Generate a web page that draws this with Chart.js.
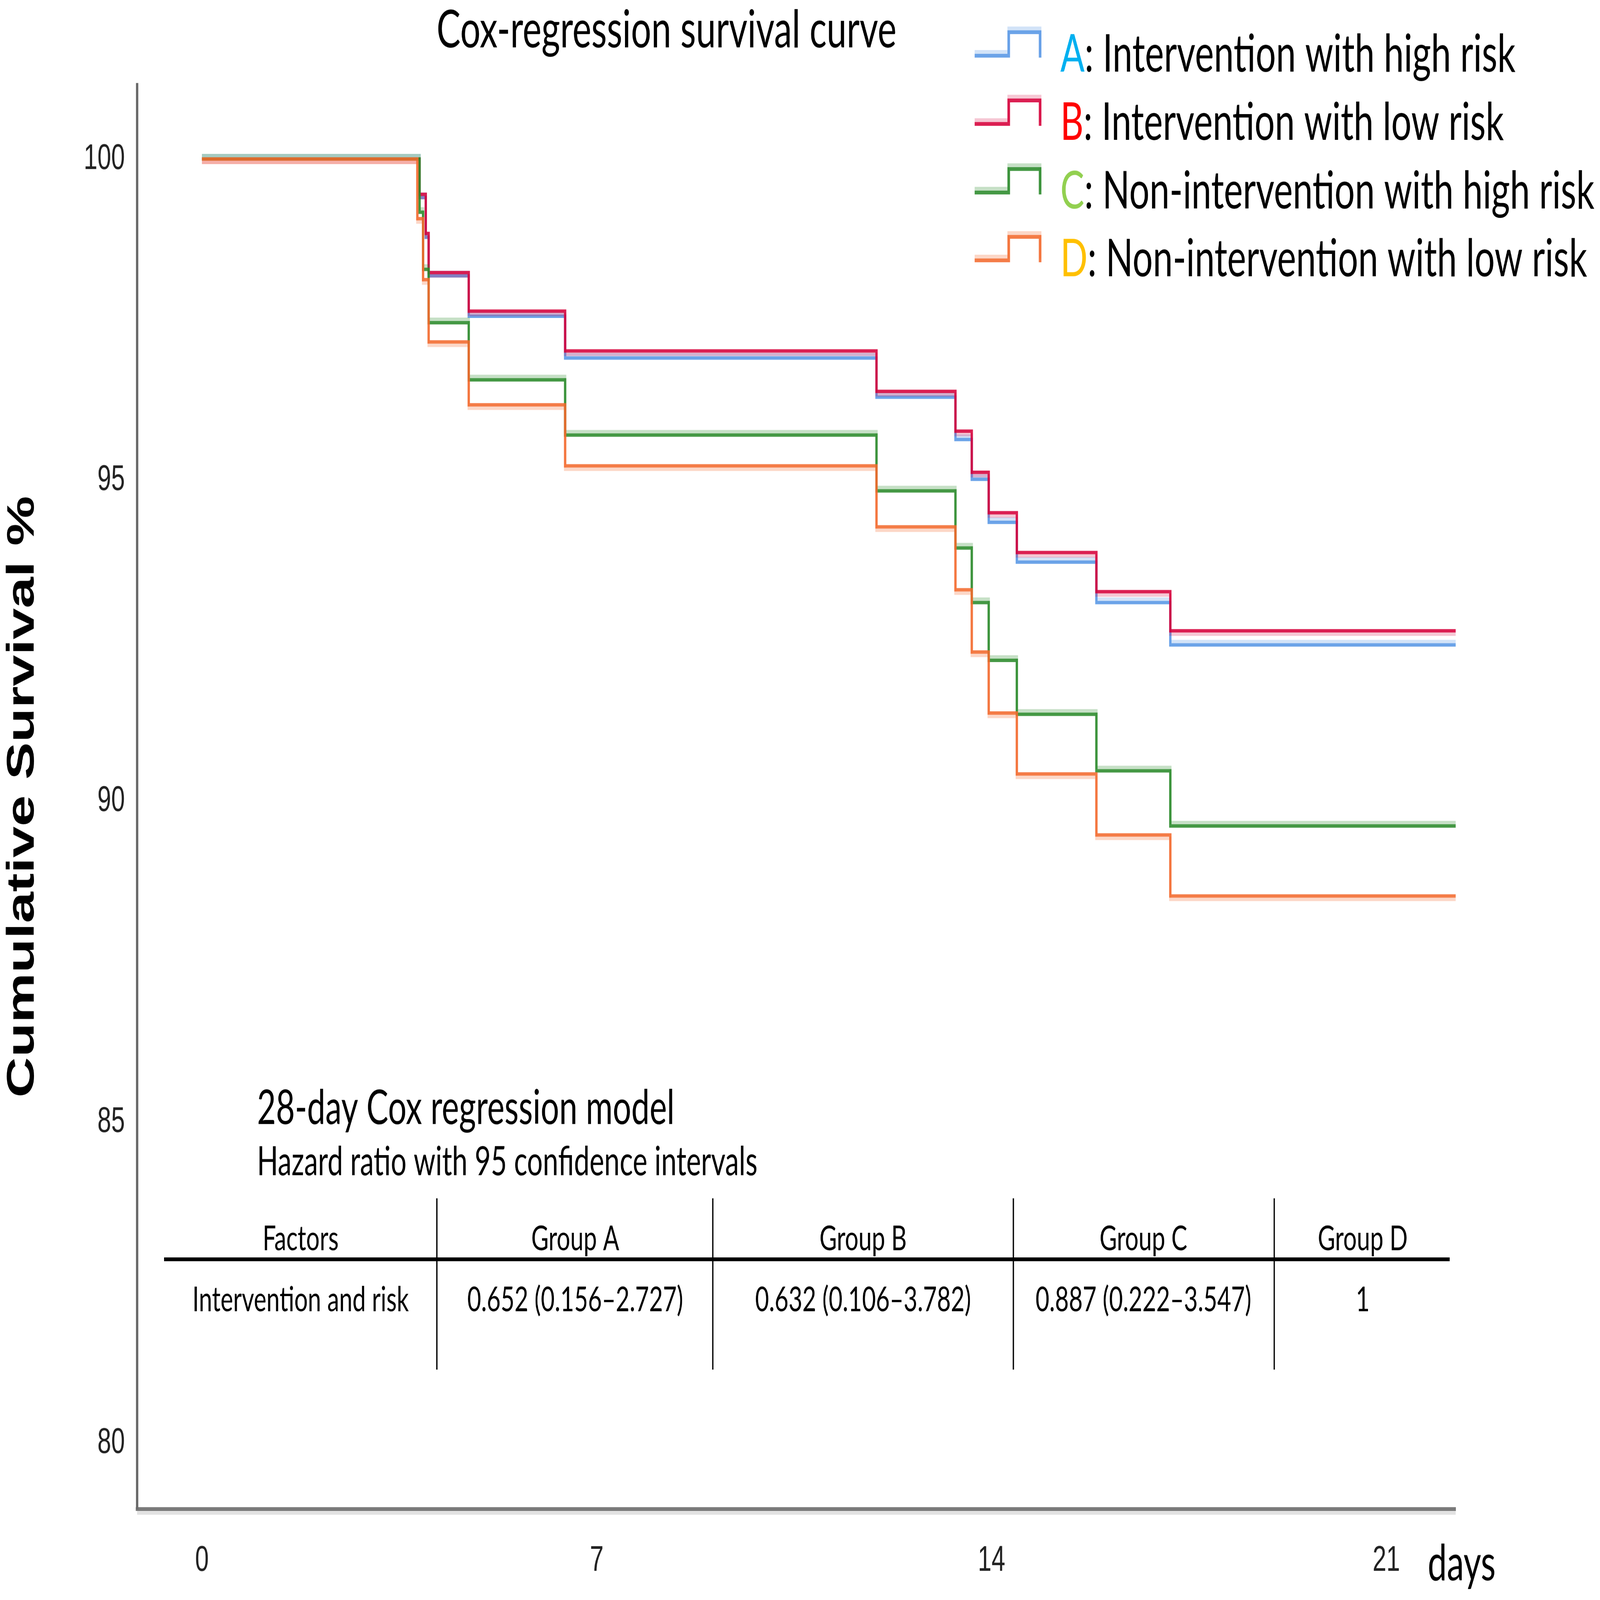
<!DOCTYPE html>
<html>
<head>
<meta charset="utf-8">
<title>Cox-regression survival curve</title>
<script src="https://cdn.jsdelivr.net/npm/chart.js@4.4.0/dist/chart.umd.min.js"></script>
<style>
  html, body { margin: 0; padding: 0; background: #ffffff; overflow: hidden; }
  canvas { display: block; }
</style>
</head>
<body>
<!-- drawn at the reference size, stretched by css to whatever the window is -->
<canvas id="survivalChart" width="6164" height="4222" style="width:100vw;height:100vh"></canvas>
<script>
// step times (days) and survival % after each step, one pair of arrays per group
const daysA = [0, 3.86, 3.97, 4.02, 4.73, 6.44, 11.96, 13.36, 13.65, 13.95, 14.45, 15.86, 17.17, 22.24];
const survA = [100, 99.40, 98.78, 98.18, 97.55, 96.90, 96.29, 95.63, 95.01, 94.34, 93.72, 93.09, 92.43, 92.43];

const daysB = [0, 3.86, 3.97, 4.02, 4.73, 6.44, 11.96, 13.36, 13.65, 13.95, 14.45, 15.86, 17.17, 22.24];
const survB = [100, 99.45, 98.84, 98.23, 97.63, 97.01, 96.38, 95.76, 95.12, 94.49, 93.87, 93.26, 92.65, 92.65];

const daysC = [0, 3.86, 3.92, 4.02, 4.73, 6.44, 11.96, 13.36, 13.65, 13.95, 14.45, 15.86, 17.17, 22.24];
const survC = [100, 99.17, 98.28, 97.45, 96.56, 95.70, 94.83, 93.94, 93.09, 92.19, 91.35, 90.47, 89.61, 89.61];

const daysD = [0, 3.82, 3.92, 4.02, 4.73, 6.44, 11.96, 13.36, 13.65, 13.95, 14.45, 15.86, 17.17, 22.24];
const survD = [100, 99.07, 98.12, 97.15, 96.17, 95.22, 94.27, 93.29, 92.32, 91.37, 90.42, 89.47, 88.52, 88.52];

const groupLetters = ['A', 'B', 'C', 'D'];
const groupLabels = [
  ': Intervention with high risk',
  ': Intervention with low risk',
  ': Non-intervention with high risk',
  ': Non-intervention with low risk'
];

const xTickValues = [0, 7, 14, 21];
const yTickValues = [80, 85, 90, 95, 100];

const tableHeader = ['Factors', 'Group A', 'Group B', 'Group C', 'Group D'];
const tableRow = ['Intervention and risk', '0.652 (0.156\u20132.727)', '0.632 (0.106\u20133.782)', '0.887 (0.222\u20133.547)', '1'];

// styles
const lineColors = ['rgba(94,155,230,0.92)', 'rgba(214,0,58,0.88)', 'rgba(42,138,42,0.88)', 'rgba(242,106,46,0.88)'];
const shadowColors = ['rgba(94,155,230,0.3)', 'rgba(214,0,58,0.25)', 'rgba(42,138,42,0.3)', 'rgba(242,106,46,0.3)'];
const shadowOffsets = [-9, 9, -9, 9];
const letterColors = ['#00B0F0', '#FF0000', '#92D050', '#FFC000'];
const textFont = 'Lato, "Open Sans", sans-serif';
const tickFont = '"Liberation Sans", Arial, sans-serif';

const toPoints = (days, surv) => days.map((d, i) => ({ x: d, y: surv[i] }));
const seriesData = [toPoints(daysA, survA), toPoints(daysB, survB), toPoints(daysC, survC), toPoints(daysD, survD)];

// soft second band that SPSS draws along each curve
const lineShadow = {
  id: 'lineShadow',
  beforeDatasetDraw(chart, args) {
    const ctx = chart.ctx;
    ctx.save();
    ctx.shadowColor = shadowColors[args.index];
    ctx.shadowOffsetX = 0;
    ctx.shadowOffsetY = shadowOffsets[args.index];
    ctx.shadowBlur = 0;
  },
  afterDatasetDraw(chart) {
    chart.ctx.restore();
  }
};

// title, legend, "days" label and hazard ratio table
const decorations = {
  id: 'decorations',
  afterDraw(chart) {
    const ctx = chart.ctx;
    const area = chart.chartArea;
    ctx.save();

    // light band under the x axis line
    ctx.strokeStyle = '#e2e2e2';
    ctx.lineWidth = 10;
    ctx.beginPath();
    ctx.moveTo(area.left, area.bottom + 10);
    ctx.lineTo(area.right, area.bottom + 10);
    ctx.stroke();

    ctx.textBaseline = 'alphabetic';
    ctx.fillStyle = '#000';

    ctx.font = '138px ' + textFont;
    ctx.textAlign = 'center';
    ctx.fillText('Cox-regression survival curve', 2568, 125);

    // legend
    const rowBase = [189, 369, 550, 729];
    ctx.textAlign = 'left';
    for (let i = 0; i < 4; i++) {
      const b = rowBase[i];
      ctx.save();
      ctx.strokeStyle = lineColors[i];
      ctx.lineWidth = 10;
      ctx.shadowColor = shadowColors[i];
      ctx.shadowOffsetY = -10;
      ctx.beginPath();
      ctx.moveTo(3755, b - 42);
      ctx.lineTo(3886, b - 42);
      ctx.lineTo(3886, b - 104);
      ctx.lineTo(4007, b - 104);
      ctx.lineTo(4007, b - 37);
      ctx.stroke();
      ctx.restore();

      ctx.font = '138px ' + textFont;
      ctx.fillStyle = letterColors[i];
      ctx.fillText(groupLetters[i], 4085, b);
      const w = ctx.measureText(groupLetters[i]).width;
      ctx.fillStyle = '#000';
      ctx.fillText(groupLabels[i], 4085 + w, b);
    }

    ctx.font = '132px ' + textFont;
    ctx.fillText('days', 5500, 4170);

    // table
    ctx.font = '126px ' + textFont;
    ctx.fillText('28-day Cox regression model', 990, 2966);
    ctx.font = '107px ' + textFont;
    ctx.fillText('Hazard ratio with 95 confidence intervals', 990, 3101);

    const colCenters = [1158, 2216, 3325, 4405, 5250];
    ctx.font = '92px ' + textFont;
    ctx.textAlign = 'center';
    tableHeader.forEach((t, i) => ctx.fillText(t, colCenters[i], 3299));
    tableRow.forEach((t, i) => ctx.fillText(t, colCenters[i], 3460));

    ctx.strokeStyle = '#000';
    ctx.lineWidth = 10;
    ctx.beginPath();
    ctx.moveTo(632, 3323);
    ctx.lineTo(5585, 3323);
    ctx.stroke();
    ctx.lineWidth = 5;
    [1683, 2746, 3904, 4909].forEach(x => {
      ctx.beginPath();
      ctx.moveTo(x, 3162);
      ctx.lineTo(x, 3614);
      ctx.stroke();
    });
    ctx.restore();
  }
};

const ctx = document.getElementById('survivalChart').getContext('2d');
new Chart(ctx, {
  type: 'line',
  data: {
    datasets: seriesData.map((pts, i) => ({
      label: groupLetters[i] + groupLabels[i],
      data: pts,
      borderColor: lineColors[i],
      borderWidth: 9,
      stepped: 'before',
      pointRadius: 0,
      fill: false,
      tension: 0,
      order: 3 - i // D on top, as in the original
    }))
  },
  options: {
    responsive: false,
    animation: false,
    devicePixelRatio: 1,
    layout: { padding: { left: 0, top: 223, right: 556, bottom: 0 } },
    plugins: {
      legend: { display: false },
      title: { display: false },
      tooltip: { enabled: false }
    },
    scales: {
      x: {
        type: 'linear',
        min: -1.15,
        max: 22.23,
        afterFit: (scale) => { scale.height = 240; },
        afterBuildTicks: (scale) => { scale.ticks = xTickValues.map(v => ({ value: v })); },
        grid: { display: false, drawTicks: false },
        border: { display: true, color: '#7a7a7a', width: 10 },
        ticks: {
          padding: 80,
          color: '#222',
          font: { family: tickFont, size: 95 },
          maxRotation: 0
        }
      },
      y: {
        type: 'linear',
        min: 78.97,
        max: 101.16,
        afterFit: (scale) => { scale.width = 528; },
        afterBuildTicks: (scale) => { scale.ticks = yTickValues.map(v => ({ value: v })); },
        grid: { display: false, drawTicks: false },
        border: { display: true, color: '#6a6a6a', width: 9 },
        ticks: {
          padding: 47,
          color: '#222',
          font: { family: tickFont, size: 95 }
        },
        title: {
          display: true,
          text: 'Cumulative Survival %',
          color: '#000',
          padding: { top: 0, bottom: 0 },
          font: { family: tickFont, size: 148, weight: 'bold' }
        }
      }
    }
  },
  plugins: [lineShadow, decorations]
});
</script>
</body>
</html>
